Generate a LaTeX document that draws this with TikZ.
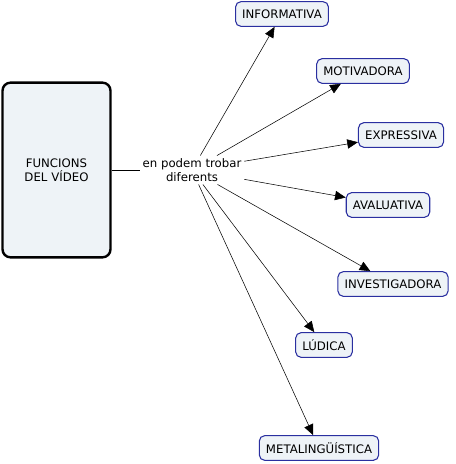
\documentclass[tikz,border=0pt]{standalone}
\usepackage{fontspec}
\setmainfont{DejaVu Sans}
\usetikzlibrary{arrows.meta}
\definecolor{boxfill}{HTML}{EEF3F7}
\definecolor{boxline}{HTML}{2A2FA0}

\begin{document}
\begin{tikzpicture}[x=0.75pt, y=-0.75pt,
    every node/.style={font=\fontsize{8.8}{10.5}\selectfont},
    concept/.style={draw=boxline, line width=0.8pt, rounded corners=4pt, fill=boxfill, inner xsep=5pt, inner ysep=0pt, minimum height=18.5pt},
    link/.style={-{Triangle[length=8pt, width=7pt]}}]
        \useasboundingbox (0,0) rectangle (456,464);
        % Main concept
        \node[draw=black, line width=1.8pt, rounded corners=6pt, fill=boxfill, minimum width=81pt, minimum height=131pt, text width=70pt, align=center, inner sep=0pt] (main) at (56.5,170) {FUNCIONS\\DEL VÍDEO};
        \node[align=center, inner sep=2pt] (lbl) at (192,170) {en podem trobar\\diferents};
        % Functions
        \node[concept] (info) at (282,14) {INFORMATIVA};
        \node[concept] (motiv) at (363,71) {MOTIVADORA};
        \node[concept] (expr) at (401,135) {EXPRESSIVA};
        \node[concept] (aval) at (388,205) {AVALUATIVA};
        \node[concept] (invest) at (393,284) {INVESTIGADORA};
        \node[concept] (ludica) at (324,345) {LÚDICA};
        \node[concept] (meta) at (319,448) {METALINGÜÍSTICA};

        \draw (main) -- (lbl);
        \draw[link] (lbl) -- (info);
        \draw[link] (lbl) -- (motiv);
        \draw[link] (lbl) -- (expr);
        \draw[link] (lbl) -- (aval);
        \draw[link] (lbl) -- (invest);
        \draw[link] (lbl) -- (ludica);
        \draw[link] (lbl) -- (meta);
    \end{tikzpicture}
\end{document}
